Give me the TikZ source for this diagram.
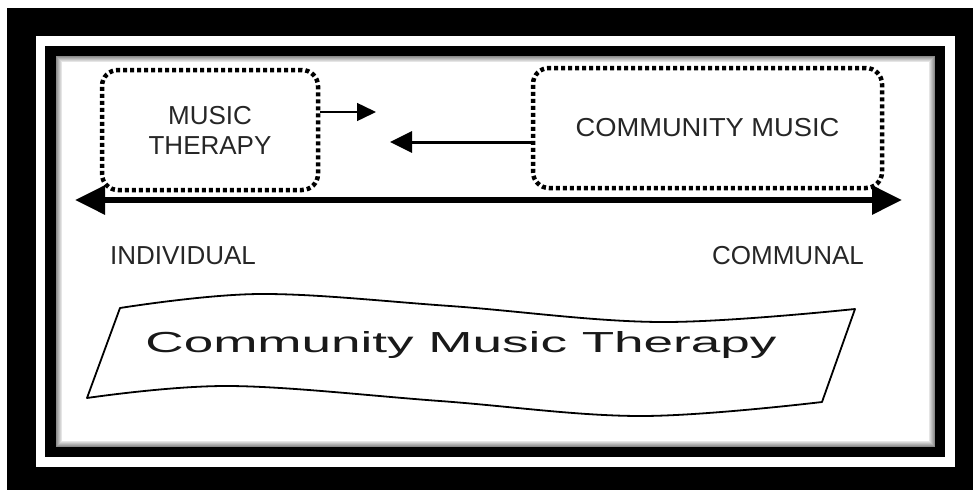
\documentclass[tikz,border=0pt]{standalone}
\usepackage{fontspec}
\setmainfont{Liberation Sans}
\usepackage{tikz}
\usetikzlibrary{positioning, arrows.meta, calc}

\begin{document}
\begin{tikzpicture}[x=1pt, y=-1pt,
    dotbox/.style={draw, rounded corners=16pt, line width=4.5pt, dash pattern=on 4pt off 3pt, align=center, font=\fontsize{26}{30}\selectfont, text=black!85},
    lbl/.style={font=\fontsize{26}{30}\selectfont, text=black!85},
    axis/.style={line width=6pt, {Triangle[length=30pt, width=28pt]}-{Triangle[length=30pt, width=28pt]}},
    thin arrow/.style={line width=1.5pt, -{Triangle[length=19pt, width=18pt]}},
    mid arrow/.style={line width=3pt, -{Triangle[length=22pt, width=21pt]}}]
  \useasboundingbox (0,0) rectangle (973,490);
  \fill[white] (0,0) rectangle (973,490);
  \fill[black] (7,8) rectangle (973,490);
  \fill[white] (36,36) rectangle (955,467);
  \fill[black] (45,46) rectangle (945,457);
  \fill[white] (56,56) rectangle (935,447);
  \foreach \i in {0,...,5} {
    \draw[black!\fpeval{45-7*\i}, line width=1pt] (56.5+\i,56.5+\i) rectangle (934.5-\i,446.5-\i);
  }
  \node[dotbox, minimum width=216pt, minimum height=120pt] (mt) at (210,130) {MUSIC\\THERAPY};
  \node[dotbox, minimum width=349pt, minimum height=120pt] (cm) at (707.5,128) {\scalebox{1.05}[1]{COMMUNITY MUSIC}};
  \coordinate (lend) at (75,200);
  \coordinate (rend) at (902,200);
  \draw[axis] (lend) -- (rend);
  \coordinate (mtto) at (376,112);
  \coordinate (cmto) at (390,142);
  \draw[thin arrow] (mt.east |- mtto) -- (mtto);
  \draw[mid arrow] (cm.west |- cmto) -- (cmto);
  \node[lbl] (ind) at (183,256) {INDIVIDUAL};
  \node[lbl] (com) at (788,256) {COMMUNAL};
  \draw[line width=1.8pt, line join=round]
    plot[smooth, tension=0.6] coordinates {(120,308) (260,294) (450,306) (660,322) (855,309)}
    -- plot[smooth, tension=0.6] coordinates {(822,402) (640,416) (440,401) (230,386) (87,398)} -- cycle;
  \node[font=\fontsize{29}{32}\selectfont, text=black!90] (cmt) at (461,345) {\scalebox{1.83}[1]{Community Music Therapy}};
\end{tikzpicture}
\end{document}
